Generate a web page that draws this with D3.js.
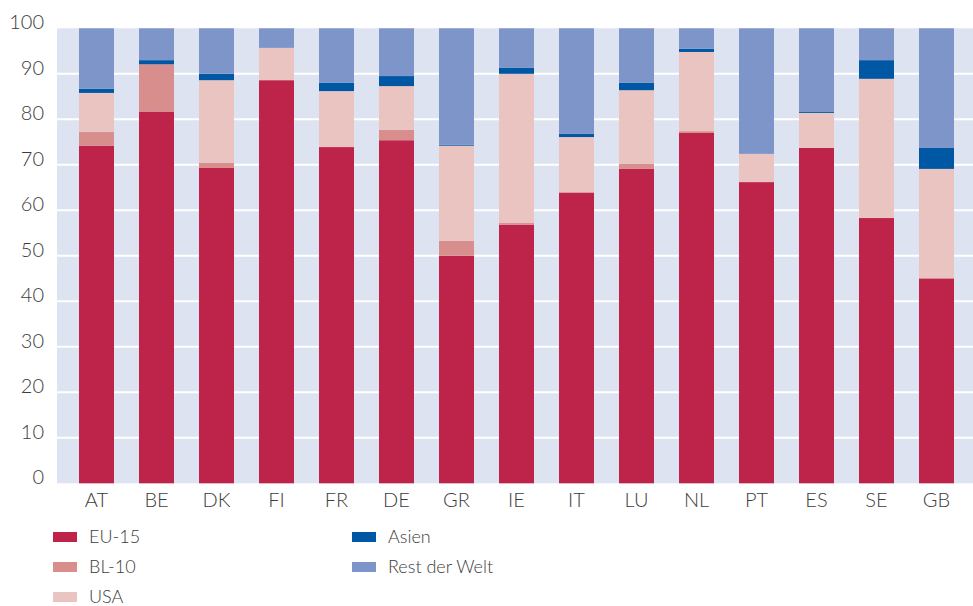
<!DOCTYPE html>
<html>
<head>
<meta charset="utf-8">
<script src="https://cdn.jsdelivr.net/npm/d3@7"></script>
<style>
  body { margin: 0; background: #fff; }
  svg text { font-family: Lato, "Open Sans", sans-serif; font-weight: 300; fill: #3c3c3c; }
</style>
</head>
<body>
<div id="vis"></div>
<script>
// countries along the x axis
const countries = ["AT", "BE", "DK", "FI", "FR", "DE", "GR", "IE", "IT", "LU", "NL", "PT", "ES", "SE", "GB"];

// shares in percent
const eu15   = [74.2, 81.7, 69.3, 88.6, 73.9, 75.4, 50.0, 56.8, 63.8, 69.1, 77.0, 66.2, 73.7, 58.3, 45.0];
const bl10   = [3.0, 10.4, 1.1, 0.0, 0.0, 2.3, 3.3, 0.4, 0.2, 1.1, 0.4, 0.0, 0.0, 0.0, 0.2];
const usa    = [8.6, 0.0, 18.2, 7.1, 12.3, 9.6, 20.9, 32.8, 12.1, 16.2, 17.4, 6.2, 7.7, 30.6, 23.9];
const asien  = [0.9, 0.9, 1.4, 0.0, 1.8, 2.2, 0.2, 1.3, 0.7, 1.6, 0.7, 0.0, 0.2, 4.1, 4.6];
const rest   = [13.3, 7.0, 10.0, 4.3, 12.0, 10.5, 25.6, 8.7, 23.2, 12.0, 4.5, 27.6, 18.4, 7.0, 26.3];

const seriesNames = ["EU-15", "BL-10", "USA", "Asien", "Rest der Welt"];
const yTicks = [0, 10, 20, 30, 40, 50, 60, 70, 80, 90, 100];

const COLORS = ["#be2449", "#d88e8c", "#eac4c0", "#0057a4", "#7d95c8"];

const FRAME_WIDTH = 973;
const FRAME_HEIGHT = 606;
const PLOT = {left: 57, right: 973, top: 28.3, bottom: 483.3};

// one row per country so d3.stack can work on it
const rows = countries.map((c, i) => ({
  country: c,
  "EU-15": eu15[i],
  "BL-10": bl10[i],
  "USA": usa[i],
  "Asien": asien[i],
  "Rest der Welt": rest[i]
}));

const stacked = d3.stack().keys(seriesNames)(rows);

const svg = d3.select("#vis")
  .append("svg")
  .attr("width", FRAME_WIDTH)
  .attr("height", FRAME_HEIGHT);

const X_SCALE = d3.scaleBand()
  .domain(countries)
  .range([66.5, 966.5])
  .paddingInner(25 / 60)
  .paddingOuter(25 / 120);

const Y_SCALE = d3.scaleLinear()
  .domain([0, 100])
  .range([PLOT.bottom, PLOT.top]);

const COLOR = d3.scaleOrdinal().domain(seriesNames).range(COLORS);

// plot background
svg.append("rect")
  .attr("x", PLOT.left)
  .attr("y", PLOT.top)
  .attr("width", PLOT.right - PLOT.left)
  .attr("height", PLOT.bottom - PLOT.top)
  .attr("fill", "#dee3f1");

// white gridlines
svg.append("g")
  .selectAll("line")
  .data(yTicks.filter(d => d > 0 && d < 100))
  .enter()
  .append("line")
    .attr("x1", PLOT.left)
    .attr("x2", PLOT.right)
    .attr("y1", d => Y_SCALE(d))
    .attr("y2", d => Y_SCALE(d))
    .attr("stroke", "#fff")
    .attr("stroke-width", 2);

// stacked bars
svg.append("g")
  .selectAll("g")
  .data(stacked)
  .enter()
  .append("g")
    .attr("fill", d => COLOR(d.key))
  .selectAll("rect")
  .data(d => d)
  .enter()
  .append("rect")
    .attr("x", d => X_SCALE(d.data.country))
    .attr("width", X_SCALE.bandwidth())
    .attr("y", d => Y_SCALE(d[1]))
    .attr("height", d => Y_SCALE(d[0]) - Y_SCALE(d[1]));

// y axis, labels only
const yAxis = svg.append("g")
  .attr("transform", "translate(" + (PLOT.left - 13) + ",-6)")
  .call(d3.axisLeft(Y_SCALE).tickValues(yTicks).tickSize(0).tickPadding(0));
yAxis.select(".domain").remove();
yAxis.selectAll("text")
  .attr("font-size", "20px")
  .style("font-family", "Lato, 'Open Sans', sans-serif")
  .attr("fill", "#3c3c3c");

// x axis, labels only
const xAxis = svg.append("g")
  .attr("transform", "translate(0," + PLOT.bottom + ")")
  .call(d3.axisBottom(X_SCALE).tickSize(0).tickPadding(10));
xAxis.select(".domain").remove();
xAxis.selectAll("text")
  .attr("font-size", "20px")
  .style("font-family", "Lato, 'Open Sans', sans-serif")
  .attr("fill", "#3c3c3c");

// legend: two columns
const legendPos = [
  {x: 53, y: 537}, {x: 53, y: 567}, {x: 53, y: 597},
  {x: 352, y: 537}, {x: 352, y: 567}
];

const legend = svg.append("g")
  .selectAll("g")
  .data(seriesNames)
  .enter()
  .append("g")
    .attr("transform", (d, i) => "translate(" + legendPos[i].x + "," + legendPos[i].y + ")");

legend.append("rect")
  .attr("x", 0)
  .attr("y", -5)
  .attr("width", 24)
  .attr("height", 10)
  .attr("fill", d => COLOR(d));

legend.append("text")
  .attr("x", 36)
  .attr("y", 0)
  .attr("dy", "0.35em")
  .attr("font-size", "18px")
  .text(d => d);
</script>
</body>
</html>
